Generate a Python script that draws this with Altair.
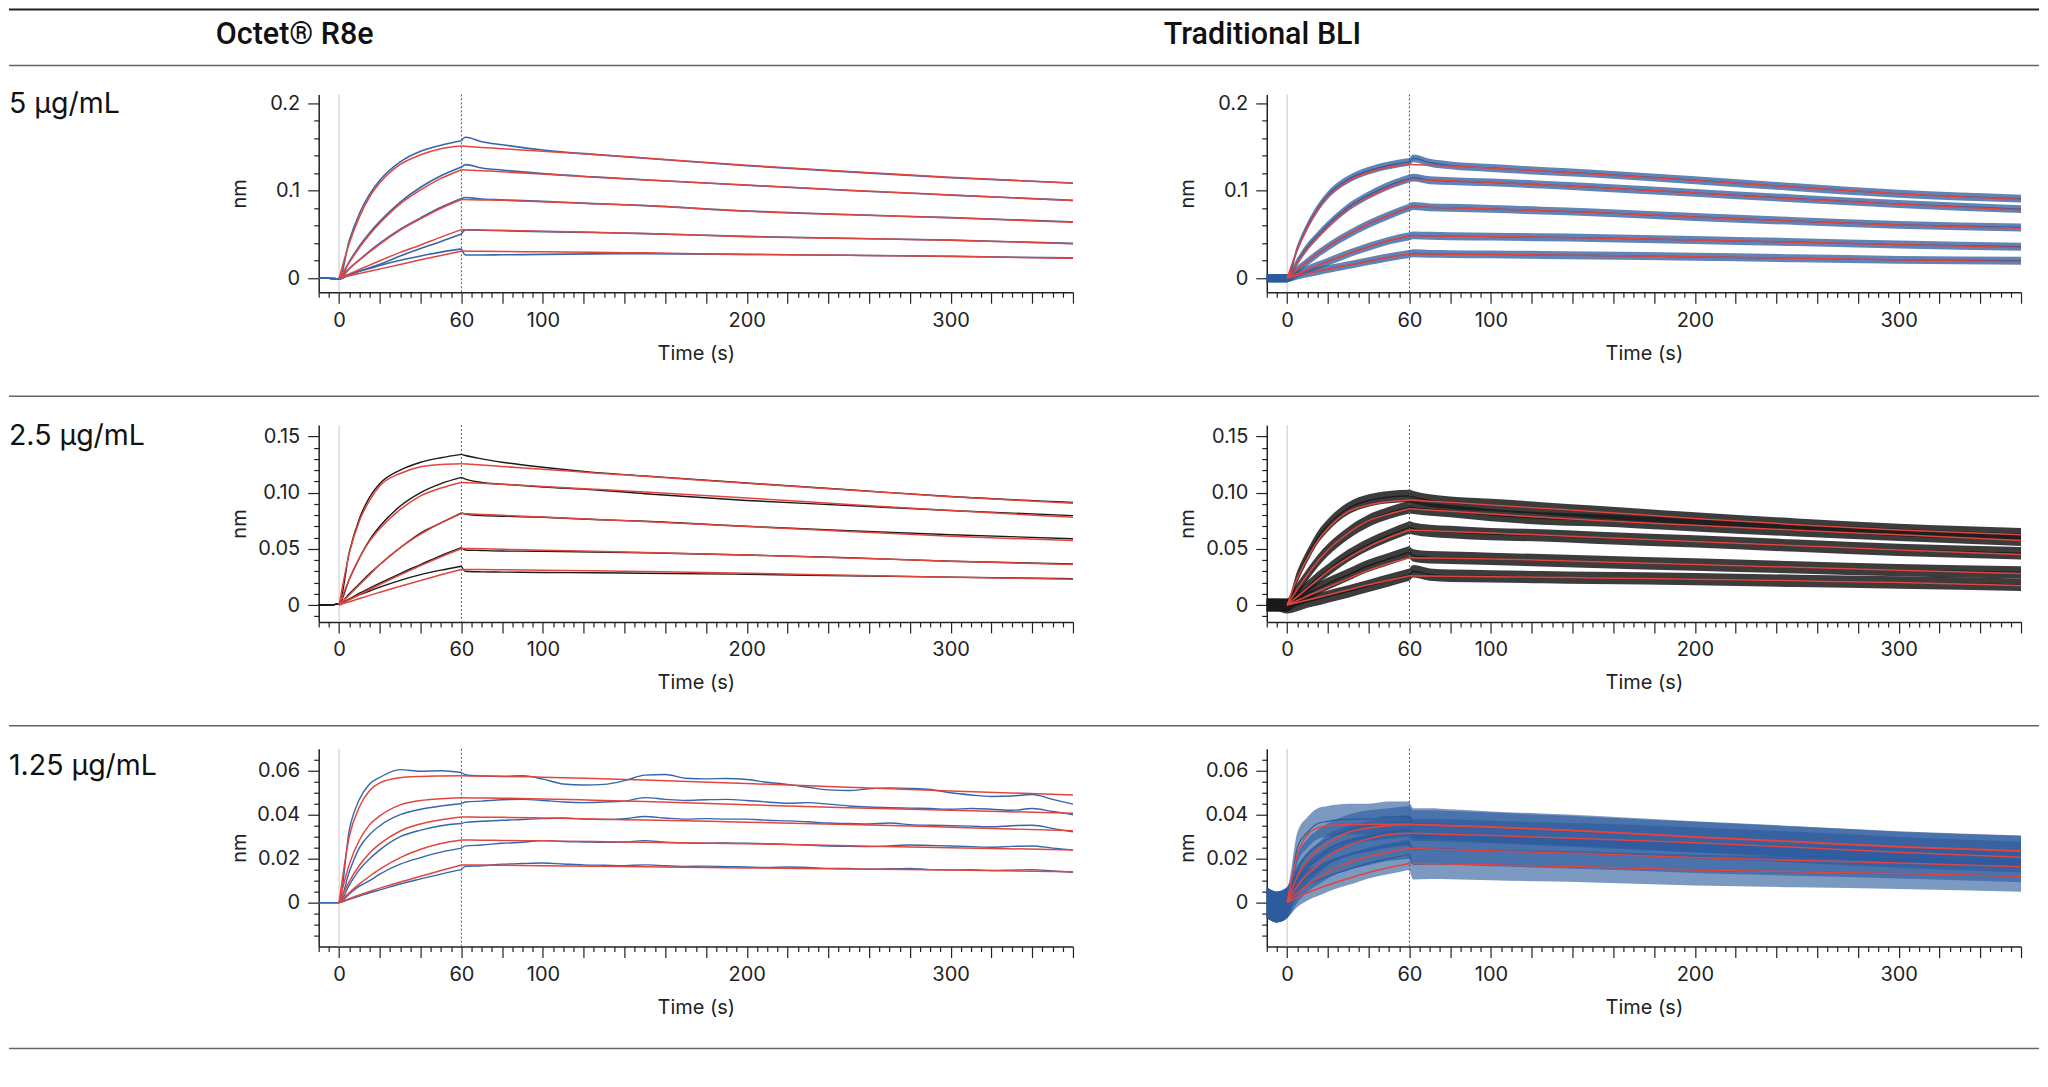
import altair as alt
import pandas as pd

FONT = "Inter"
HEAD_FONT = "Roboto"
RED = "#e2453f"
BLUE = "#3566ab"
BLUE_T = "#2b5b9c"
BLACK = "#1a1a1a"

# ---------------- time grids (s) ----------------
T_BASE = [-10, -5]
T_ASSOC = [0, 5, 10, 15, 20, 30, 40, 50, 60]
T_DISSOC = [60, 70, 80, 100, 125, 150, 200, 250, 300, 360]
T_DISSOC_M = [60, 62, 70, 80, 100, 125, 150, 200, 250, 300, 360]
T_DISSOC_FINE = [60, 62, 70, 80, 90, 100, 110, 120, 130, 140, 150, 160, 170, 180, 190, 200,
                 210, 220, 230, 240, 250, 260, 270, 280, 290, 300, 310, 320, 330, 340, 350, 360]

# ---------------- Octet R8e, 5 ug/mL ----------------
O5_FIT_A = [
    [0, 0.040, 0.070, 0.093, 0.109, 0.130, 0.141, 0.148, 0.151],
    [0, 0.018, 0.035, 0.050, 0.063, 0.085, 0.101, 0.114, 0.124],
    [0, 0.011, 0.021, 0.030, 0.039, 0.055, 0.068, 0.080, 0.090],
    [0, 0.005, 0.010, 0.015, 0.020, 0.0295, 0.038, 0.047, 0.0555],
    [0, 0.0027, 0.0054, 0.008, 0.0106, 0.0158, 0.021, 0.026, 0.031],
]
O5_FIT_D = [
    [0.151, 0.1495, 0.148, 0.145, 0.1415, 0.1375, 0.129, 0.122, 0.1154, 0.1086],
    [0.124, 0.1228, 0.1216, 0.119, 0.1155, 0.1122, 0.1065, 0.1005, 0.0952, 0.0888],
    [0.090, 0.0895, 0.089, 0.0875, 0.0852, 0.083, 0.0765, 0.0725, 0.069, 0.064],
    [0.0555, 0.0551, 0.0547, 0.0538, 0.0525, 0.0512, 0.0475, 0.0455, 0.0435, 0.0395],
    [0.031, 0.0308, 0.0306, 0.0302, 0.0296, 0.029, 0.0272, 0.0262, 0.025, 0.0228],
]
O5_MEAS_BASE = [0.0003, 0.0]
O5_MEAS_A = [
    [-0.001, 0.043, 0.074, 0.096, 0.112, 0.133, 0.145, 0.152, 0.157],
    [-0.001, 0.019, 0.037, 0.052, 0.065, 0.087, 0.104, 0.117, 0.127],
    [-0.001, 0.011, 0.021, 0.031, 0.040, 0.056, 0.069, 0.081, 0.091],
    [-0.001, 0.004, 0.008, 0.012, 0.016, 0.0255, 0.034, 0.042, 0.0505],
    [-0.001, 0.004, 0.008, 0.011, 0.0145, 0.0205, 0.0255, 0.0298, 0.0335],
]
O5_MEAS_D = [
    [0.157, 0.161, 0.156, 0.1525, 0.1465, 0.1415, 0.137, 0.1285, 0.1215, 0.1148, 0.1088],
    [0.127, 0.1298, 0.126, 0.1236, 0.1195, 0.1158, 0.1125, 0.1063, 0.1003, 0.095, 0.089],
    [0.091, 0.0922, 0.0905, 0.0895, 0.0878, 0.0852, 0.083, 0.0768, 0.0728, 0.0692, 0.0645],
    [0.0505, 0.0552, 0.0548, 0.0542, 0.0532, 0.0522, 0.051, 0.0478, 0.0456, 0.0435, 0.0398],
    [0.0335, 0.0265, 0.0266, 0.0268, 0.0272, 0.0278, 0.028, 0.0272, 0.0262, 0.025, 0.0232],
]

# ---------------- Traditional BLI, 5 ug/mL ----------------
T5_FIT_A = [
    [0, 0.033, 0.058, 0.078, 0.093, 0.111, 0.121, 0.127, 0.130],
    [0, 0.018, 0.034, 0.047, 0.059, 0.079, 0.093, 0.104, 0.113],
    [0, 0.010, 0.019, 0.028, 0.036, 0.050, 0.062, 0.072, 0.0815],
    [0, 0.005, 0.010, 0.0145, 0.019, 0.028, 0.036, 0.043, 0.0485],
    [0, 0.003, 0.0055, 0.008, 0.0105, 0.015, 0.0195, 0.024, 0.0277],
]
T5_FIT_D = [
    [0.130, 0.1292, 0.1283, 0.1258, 0.1225, 0.1192, 0.1118, 0.104, 0.0965, 0.090],
    [0.113, 0.1122, 0.1114, 0.1095, 0.1068, 0.104, 0.0975, 0.0905, 0.0845, 0.078],
    [0.0815, 0.081, 0.0805, 0.0792, 0.0772, 0.0752, 0.070, 0.0652, 0.0608, 0.057],
    [0.0485, 0.0483, 0.0481, 0.0476, 0.0468, 0.046, 0.0437, 0.0412, 0.0385, 0.035],
    [0.0277, 0.0276, 0.0275, 0.0272, 0.0266, 0.026, 0.0245, 0.0228, 0.021, 0.019],
]
T5_MEAS_BASE = [0.0, 0.0]
T5_MEAS_A = [
    [0, 0.034, 0.060, 0.080, 0.095, 0.113, 0.123, 0.129, 0.133],
    [0, 0.019, 0.036, 0.049, 0.061, 0.081, 0.095, 0.106, 0.114],
    [0, 0.010, 0.019, 0.028, 0.036, 0.050, 0.062, 0.072, 0.081],
    [0, 0.005, 0.010, 0.0145, 0.019, 0.028, 0.036, 0.043, 0.048],
    [0, 0.003, 0.0055, 0.008, 0.0105, 0.015, 0.0195, 0.024, 0.0277],
]
T5_MEAS_D = [
    [0.133, 0.137, 0.132, 0.129, 0.126, 0.1225, 0.1195, 0.112, 0.104, 0.0965, 0.091],
    [0.114, 0.115, 0.112, 0.111, 0.1095, 0.107, 0.104, 0.0975, 0.091, 0.0848, 0.079],
    [0.081, 0.0825, 0.081, 0.0805, 0.0792, 0.0772, 0.0752, 0.070, 0.0652, 0.061, 0.058],
    [0.048, 0.049, 0.0485, 0.048, 0.0476, 0.0468, 0.046, 0.0437, 0.0412, 0.0385, 0.036],
    [0.0277, 0.0285, 0.0278, 0.0276, 0.0272, 0.0266, 0.026, 0.0245, 0.0228, 0.021, 0.020],
]
T5_NOISE = 0.0045

# ---------------- Octet R8e, 2.5 ug/mL ----------------
O25_FIT_A = [
    [0, 0.046, 0.075, 0.093, 0.106, 0.117, 0.123, 0.125, 0.1257],
    [0, 0.023, 0.042, 0.057, 0.068, 0.085, 0.097, 0.104, 0.109],
    [0, 0.009, 0.018, 0.027, 0.036, 0.051, 0.063, 0.073, 0.0814],
    [0, 0.0047, 0.0093, 0.0138, 0.0182, 0.0268, 0.035, 0.0428, 0.0503],
    [0, 0.0029, 0.0058, 0.0086, 0.0113, 0.0167, 0.0219, 0.0269, 0.0317],
]
O25_FIT_D = [
    [0.1257, 0.1245, 0.1232, 0.1208, 0.1175, 0.1145, 0.1083, 0.1023, 0.0963, 0.0906],
    [0.109, 0.1082, 0.1073, 0.1055, 0.103, 0.1005, 0.0952, 0.0895, 0.084, 0.078],
    [0.0814, 0.0806, 0.0798, 0.0782, 0.0762, 0.0742, 0.0698, 0.0655, 0.0612, 0.0573],
    [0.0503, 0.050, 0.0496, 0.0488, 0.0478, 0.0468, 0.0445, 0.0418, 0.039, 0.036],
    [0.0317, 0.0316, 0.0314, 0.031, 0.0304, 0.0298, 0.0283, 0.0265, 0.0248, 0.023],
]
O25_MEAS_BASE = [0.0, 0.0]
O25_MEAS_A = [
    [0.001, 0.047, 0.077, 0.096, 0.108, 0.120, 0.127, 0.131, 0.134],
    [0.001, 0.023, 0.042, 0.058, 0.070, 0.088, 0.100, 0.108, 0.1135],
    [0.001, 0.010, 0.019, 0.028, 0.036, 0.051, 0.064, 0.073, 0.082],
    [0.001, 0.0055, 0.0105, 0.015, 0.0195, 0.028, 0.036, 0.044, 0.051],
    [0.001, 0.005, 0.009, 0.0125, 0.016, 0.022, 0.027, 0.031, 0.0345],
]
O25_MEAS_D = [
    [0.134, 0.133, 0.130, 0.127, 0.1225, 0.118, 0.1148, 0.1085, 0.1025, 0.0965, 0.0913],
    [0.1135, 0.112, 0.109, 0.1075, 0.105, 0.1025, 0.099, 0.093, 0.0885, 0.084, 0.0795],
    [0.082, 0.081, 0.0795, 0.079, 0.078, 0.076, 0.0745, 0.070, 0.066, 0.0625, 0.059],
    [0.051, 0.049, 0.0485, 0.048, 0.0478, 0.0472, 0.0465, 0.0445, 0.042, 0.039, 0.0365],
    [0.0345, 0.030, 0.0295, 0.0293, 0.029, 0.0287, 0.0283, 0.0273, 0.026, 0.0248, 0.0235],
]

# ---------------- Traditional BLI, 2.5 ug/mL ----------------
T25_FIT_A = [
    [0, 0.024, 0.042, 0.057, 0.068, 0.083, 0.089, 0.092, 0.0934],
    [0, 0.014, 0.027, 0.039, 0.049, 0.064, 0.075, 0.081, 0.0856],
    [0, 0.0075, 0.015, 0.0225, 0.030, 0.042, 0.052, 0.060, 0.0667],
    [0, 0.004, 0.008, 0.012, 0.016, 0.0235, 0.031, 0.037, 0.042],
    [0, 0.0022, 0.0045, 0.0067, 0.009, 0.0135, 0.018, 0.022, 0.026],
]
T25_FIT_D = [
    [0.0934, 0.0923, 0.0912, 0.089, 0.0861, 0.0832, 0.077, 0.0715, 0.0667, 0.0624],
    [0.0856, 0.0845, 0.0834, 0.081, 0.078, 0.0755, 0.071, 0.0665, 0.0624, 0.0574],
    [0.0667, 0.066, 0.0654, 0.064, 0.0622, 0.0603, 0.0566, 0.0528, 0.049, 0.045],
    [0.042, 0.0418, 0.0416, 0.041, 0.0398, 0.0385, 0.036, 0.0335, 0.031, 0.028],
    [0.026, 0.0258, 0.0256, 0.0252, 0.0247, 0.0241, 0.023, 0.0215, 0.020, 0.0174],
]
T25_MEAS_BASE = [0.0, 0.0]
T25_MEAS_A = [
    [0, 0.025, 0.044, 0.060, 0.071, 0.086, 0.093, 0.096, 0.097],
    [0, 0.014, 0.027, 0.039, 0.049, 0.064, 0.075, 0.082, 0.087],
    [0, 0.008, 0.016, 0.024, 0.031, 0.044, 0.054, 0.062, 0.069],
    [0, 0.005, 0.010, 0.0145, 0.019, 0.027, 0.035, 0.041, 0.047],
    [-0.002, 0.000, 0.003, 0.005, 0.0075, 0.012, 0.017, 0.022, 0.027],
]
T25_MEAS_D = [
    [0.097, 0.096, 0.093, 0.091, 0.089, 0.086, 0.083, 0.077, 0.0715, 0.0667, 0.063],
    [0.087, 0.0865, 0.085, 0.0835, 0.080, 0.077, 0.0755, 0.071, 0.0665, 0.0624, 0.058],
    [0.069, 0.068, 0.066, 0.065, 0.063, 0.062, 0.060, 0.0566, 0.0528, 0.049, 0.046],
    [0.047, 0.044, 0.0425, 0.042, 0.041, 0.0398, 0.0385, 0.036, 0.0335, 0.031, 0.029],
    [0.027, 0.030, 0.027, 0.026, 0.0255, 0.0248, 0.0241, 0.023, 0.0215, 0.020, 0.018],
]
T25_NOISE = 0.0055

# ---------------- Octet R8e, 1.25 ug/mL ----------------
O125_FIT_A = [
    [0, 0.030, 0.0436, 0.051, 0.0545, 0.0568, 0.0574, 0.0576, 0.0577],
    [0, 0.0174, 0.0285, 0.0355, 0.0395, 0.0445, 0.0465, 0.0473, 0.0477],
    [0, 0.0096, 0.017, 0.0226, 0.0267, 0.0326, 0.0358, 0.0377, 0.039],
    [0, 0.0045, 0.0085, 0.012, 0.0152, 0.0205, 0.0243, 0.0269, 0.0285],
    [0, 0.0018, 0.0035, 0.0051, 0.0066, 0.0094, 0.012, 0.0146, 0.0171],
]
O125_FIT_D = [
    [0.0577, 0.0576, 0.0575, 0.0571, 0.0565, 0.0558, 0.0542, 0.0525, 0.0508, 0.049],
    [0.0477, 0.0476, 0.0475, 0.0472, 0.0466, 0.046, 0.0445, 0.0432, 0.042, 0.0407],
    [0.039, 0.0389, 0.0388, 0.0385, 0.038, 0.0376, 0.0366, 0.0356, 0.0343, 0.0327],
    [0.0285, 0.0284, 0.0283, 0.0281, 0.0278, 0.0275, 0.0268, 0.0259, 0.025, 0.024],
    [0.0171, 0.0171, 0.017, 0.0168, 0.0166, 0.0163, 0.0158, 0.0153, 0.0148, 0.014],
]
O125_MEAS_BASE = [0.0, 0.0]
O125_MEAS_A = [
    [0, 0.033, 0.047, 0.054, 0.057, 0.0605, 0.0598, 0.060, 0.0592],
    [0, 0.014, 0.025, 0.031, 0.035, 0.040, 0.0425, 0.044, 0.045],
    [0, 0.008, 0.015, 0.020, 0.024, 0.030, 0.033, 0.035, 0.036],
    [0, 0.004, 0.0075, 0.010, 0.013, 0.0175, 0.0205, 0.023, 0.0248],
    [0, 0.0015, 0.003, 0.0045, 0.0058, 0.0085, 0.0108, 0.013, 0.015],
]
O125_MEAS_D = [
    [0.0592, 0.0582, 0.0576, 0.0574, 0.0578, 0.0562, 0.054, 0.0535, 0.0538, 0.0555, 0.058, 0.0583,
     0.0566, 0.0563, 0.0565, 0.056, 0.0548, 0.0538, 0.0525, 0.0513, 0.051, 0.0518, 0.0522, 0.052,
     0.0515, 0.050, 0.049, 0.0483, 0.0485, 0.0492, 0.047, 0.0448],
    [0.045, 0.0458, 0.0462, 0.0468, 0.047, 0.0465, 0.0458, 0.0455, 0.0458, 0.0462, 0.0478, 0.047,
     0.0465, 0.0468, 0.047, 0.0465, 0.0458, 0.0452, 0.0455, 0.0448, 0.044, 0.0435, 0.0432, 0.043,
     0.0428, 0.0425, 0.0428, 0.0425, 0.042, 0.0428, 0.0415, 0.040],
    [0.036, 0.0365, 0.037, 0.0375, 0.0378, 0.0382, 0.0385, 0.038, 0.0378, 0.0382, 0.0392, 0.0385,
     0.038, 0.0382, 0.038, 0.038, 0.0375, 0.0372, 0.0368, 0.0362, 0.036, 0.0358, 0.0362, 0.0355,
     0.0352, 0.035, 0.0348, 0.0345, 0.035, 0.0352, 0.0338, 0.0322],
    [0.0248, 0.0258, 0.0262, 0.027, 0.0275, 0.0282, 0.0278, 0.0276, 0.0274, 0.0276, 0.0282, 0.0275,
     0.0272, 0.027, 0.0272, 0.027, 0.0268, 0.0265, 0.0262, 0.0258, 0.0256, 0.0255, 0.0258, 0.0262,
     0.026, 0.0258, 0.0255, 0.0252, 0.0256, 0.0258, 0.0248, 0.024],
    [0.015, 0.0165, 0.0168, 0.0175, 0.0178, 0.018, 0.0176, 0.0172, 0.017, 0.0168, 0.0172, 0.0168,
     0.0165, 0.0166, 0.0164, 0.0162, 0.016, 0.0162, 0.016, 0.0156, 0.0155, 0.0152, 0.0154, 0.0156,
     0.015, 0.0148, 0.015, 0.0146, 0.0148, 0.015, 0.0144, 0.0138],
]

# ---------------- Traditional BLI, 1.25 ug/mL ----------------
T125_FIT_A = [
    [0, 0.022, 0.031, 0.034, 0.035, 0.0355, 0.0356, 0.0357, 0.0357],
    [0, 0.012, 0.019, 0.024, 0.027, 0.032, 0.034, 0.035, 0.0355],
    [0, 0.0075, 0.013, 0.017, 0.021, 0.026, 0.029, 0.031, 0.0316],
    [0, 0.0045, 0.008, 0.011, 0.014, 0.018, 0.021, 0.023, 0.0246],
    [0, 0.0025, 0.0045, 0.0063, 0.008, 0.011, 0.0137, 0.016, 0.0178],
]
T125_FIT_D = [
    [0.0357, 0.0354, 0.0351, 0.0345, 0.0335, 0.0325, 0.030, 0.0278, 0.0255, 0.0236],
    [0.0355, 0.0352, 0.0349, 0.0343, 0.0333, 0.0323, 0.0298, 0.0276, 0.0253, 0.0234],
    [0.0316, 0.0313, 0.031, 0.0305, 0.0297, 0.029, 0.0272, 0.0252, 0.0229, 0.0207],
    [0.0246, 0.0244, 0.0242, 0.0236, 0.0229, 0.0222, 0.0205, 0.0192, 0.018, 0.0163],
    [0.0178, 0.0177, 0.0176, 0.0172, 0.0167, 0.0162, 0.0148, 0.014, 0.0132, 0.012],
]
T125_MEAS_BASE = [0.0, -0.002]
T125_MEAS_A = [
    [0, 0.025, 0.032, 0.036, 0.037, 0.038, 0.038, 0.039, 0.039],
    [0, 0.015, 0.022, 0.026, 0.029, 0.033, 0.035, 0.036, 0.037],
    [0, 0.010, 0.016, 0.020, 0.024, 0.028, 0.030, 0.032, 0.033],
    [0, 0.007, 0.012, 0.015, 0.018, 0.022, 0.024, 0.026, 0.027],
    [0, 0.005, 0.008, 0.010, 0.012, 0.015, 0.018, 0.020, 0.022],
]
T125_MEAS_D = [
    [0.039, 0.036, 0.036, 0.0355, 0.0345, 0.0335, 0.0325, 0.030, 0.0278, 0.0255, 0.0236],
    [0.037, 0.035, 0.035, 0.0347, 0.034, 0.033, 0.032, 0.0298, 0.0276, 0.0253, 0.0234],
    [0.033, 0.031, 0.031, 0.0308, 0.0303, 0.0296, 0.029, 0.0272, 0.0252, 0.0229, 0.0207],
    [0.027, 0.0245, 0.0244, 0.0242, 0.0236, 0.0229, 0.0222, 0.0205, 0.0192, 0.018, 0.0163],
    [0.022, 0.0175, 0.0177, 0.0176, 0.0172, 0.0167, 0.0162, 0.0148, 0.014, 0.0132, 0.012],
]
T125_NOISE = 0.007

# ---------------- axis ticks / labels ----------------
X_TICKS = [-10, -5, 0, 5, 10, 15, 20, 25, 30, 35, 40, 45, 50, 55, 60, 65, 70, 75, 80, 85, 90, 95,
           100, 105, 110, 115, 120, 125, 130, 135, 140, 145, 150, 155, 160, 165, 170, 175, 180,
           185, 190, 195, 200, 205, 210, 215, 220, 225, 230, 235, 240, 245, 250, 255, 260, 265,
           270, 275, 280, 285, 290, 295, 300, 305, 310, 315, 320, 325, 330, 335, 340, 345, 350,
           355, 360]
X_LABELS = [0, 60, 100, 200, 300]

Y1_TICKS = [0, 0.02, 0.04, 0.06, 0.08, 0.1, 0.12, 0.14, 0.16, 0.18, 0.2]
Y1_LABELS = {0: "0", 0.1: "0.1", 0.2: "0.2"}
Y2_TICKS = [-0.01, 0, 0.01, 0.02, 0.03, 0.04, 0.05, 0.06, 0.07, 0.08, 0.09, 0.1, 0.11, 0.12,
            0.13, 0.14, 0.15]
Y2_LABELS = {0: "0", 0.05: "0.05", 0.1: "0.10", 0.15: "0.15"}
Y3_TICKS = [-0.015, -0.01, -0.005, 0, 0.005, 0.01, 0.015, 0.02, 0.025, 0.03, 0.035, 0.04, 0.045,
            0.05, 0.055, 0.06, 0.065]
Y3_LABELS = {0: "0", 0.02: "0.02", 0.04: "0.04", 0.06: "0.06"}

Y1_DOMAIN = [-0.016, 0.21]
Y2_DOMAIN = [-0.015, 0.16]
Y3_DOMAIN = [-0.02, 0.07]

ROW_LABELS = ["5 µg/mL", "2.5 µg/mL", "1.25 µg/mL"]
COL_HEADERS = ["Octet® R8e", "Traditional BLI"]

PW = 755
AX = dict(domainColor="#222", domainWidth=1.5, tickColor="#222", tickWidth=1.2,
          labelColor="#222", labelFont=FONT, labelFontSize=20, titleFont=FONT,
          titleFontSize=20, titleFontWeight="normal", titleColor="#222", grid=False,
          labelOverlap=False)


def fit_frame(fa, fd):
    rows = []
    for i, (a, d) in enumerate(zip(fa, fd)):
        rows += [{"t": t, "v": v, "k": f"{i}a"} for t, v in zip(T_ASSOC, a)]
        rows += [{"t": t, "v": v, "k": f"{i}d"} for t, v in zip(T_DISSOC, d)]
    return pd.DataFrame(rows)


def meas_frame(base, ma, md, td):
    rows = []
    for i, (a, d) in enumerate(zip(ma, md)):
        rows += [{"t": t, "v": v, "k": f"{i}a"} for t, v in zip(T_BASE, base)]
        rows += [{"t": t, "v": v, "k": f"{i}a"} for t, v in zip(T_ASSOC, a)]
        rows += [{"t": t, "v": v, "k": f"{i}d"} for t, v in zip(td, d)]
    return pd.DataFrame(rows)


def panel(fit_df, meas_df, ydom, yticks, ylabels, h, mcolor, mwidth, noise=None, nop=0.5):
    lab_list = ",".join(repr(v) for v in ylabels)
    lab_expr = "".join(f"datum.value === {v} ? '{s}' : " for v, s in ylabels.items()) + "''"
    x_axis = alt.Axis(values=X_TICKS, title="Time (s)",
                      labelExpr="indexof(%s, datum.value) >= 0 ? datum.label : ''" % str(X_LABELS),
                      tickSize={"condition": {"test": "datum.value % 20 === 0", "value": 11}, "value": 5},
                      labelPadding=7, labelFlush=False, titleX=PW / 2, titleY=61,
                      titleBaseline="middle", titleAlign="center", **AX)
    y_axis = alt.Axis(values=yticks, title="nm", labelExpr=lab_expr,
                      tickSize={"condition": {"test": f"indexof([{lab_list}], datum.value) >= 0", "value": 11}, "value": 5},
                      labelPadding=8, titleX=-79, titleY=h / 2, titleAngle=270,
                      titleAlign="center", titleBaseline="middle", **AX)
    x = alt.X("t:Q", scale=alt.Scale(domain=[-10, 360], nice=False, zero=False), axis=x_axis)

    def y(f):
        return alt.Y(f"{f}:Q", scale=alt.Scale(domain=ydom, nice=False, zero=False), axis=y_axis)

    r0 = alt.Chart(pd.DataFrame({"t": [0]})).mark_rule(color="#c8c8c8", strokeWidth=1).encode(x=x)
    r60 = alt.Chart(pd.DataFrame({"t": [60]})).mark_rule(
        color="#555", strokeWidth=1, strokeDash=[2, 2]).encode(x=x)
    layers = [r0, r60]
    if noise:
        band = alt.Chart(meas_df).transform_calculate(
            lo=f"datum.v - {noise}", hi=f"datum.v + {noise}"
        ).mark_area(interpolate="monotone", color=mcolor, opacity=nop).encode(
            x=x, y=y("lo"), y2="hi:Q", detail="k:N")
        layers.append(band)
    meas = alt.Chart(meas_df).mark_line(interpolate="monotone", color=mcolor,
                                        strokeWidth=mwidth).encode(x=x, y=y("v"), detail="k:N")
    fit = alt.Chart(fit_df).mark_line(interpolate="monotone", color=RED,
                                      strokeWidth=1.5).encode(x=x, y=y("v"), detail="k:N")
    layers += [meas, fit]
    return alt.layer(*layers).properties(width=PW, height=h)


ONE = pd.DataFrame({"r": [0]})


def hrule(yv, color="#666", w=1.5):
    return alt.Chart(ONE).mark_rule(color=color, strokeWidth=w).encode(
        x=alt.value(0), x2=alt.value(2032), y=alt.value(yv))


def text(s, xv, yv, size, weight="normal", font=FONT):
    return alt.Chart(pd.DataFrame({"s": [s]})).mark_text(
        align="left", baseline="alphabetic", font=font, fontSize=size, fontWeight=weight,
        color="#111").encode(text="s:N", x=alt.value(xv), y=alt.value(yv))


label1 = alt.layer(
    hrule(-85, "#222", 2), hrule(-29), hrule(302),
    text(COL_HEADERS[0], 207, -50, 30.5, 500, HEAD_FONT),
    text(COL_HEADERS[1], 1156, -50, 30.5, 500, HEAD_FONT),
    text(ROW_LABELS[0], 0, 19, 28.5),
).properties(width=116, height=204)
label2 = alt.layer(hrule(301), text(ROW_LABELS[1], 0, 20, 28.5)).properties(width=116, height=197)
label3 = alt.layer(hrule(300), text(ROW_LABELS[2], 0, 26, 28.5)).properties(width=116, height=198)

p_o5 = panel(fit_frame(O5_FIT_A, O5_FIT_D), meas_frame(O5_MEAS_BASE, O5_MEAS_A, O5_MEAS_D, T_DISSOC_M),
             Y1_DOMAIN, Y1_TICKS, Y1_LABELS, 198, BLUE, 1.6)
p_t5 = panel(fit_frame(T5_FIT_A, T5_FIT_D), meas_frame(T5_MEAS_BASE, T5_MEAS_A, T5_MEAS_D, T_DISSOC_M),
             Y1_DOMAIN, Y1_TICKS, Y1_LABELS, 198, BLUE_T, 1.2, T5_NOISE, 0.75)
p_o25 = panel(fit_frame(O25_FIT_A, O25_FIT_D), meas_frame(O25_MEAS_BASE, O25_MEAS_A, O25_MEAS_D, T_DISSOC_M),
              Y2_DOMAIN, Y2_TICKS, Y2_LABELS, 197, BLACK, 1.4)
p_t25 = panel(fit_frame(T25_FIT_A, T25_FIT_D), meas_frame(T25_MEAS_BASE, T25_MEAS_A, T25_MEAS_D, T_DISSOC_M),
              Y2_DOMAIN, Y2_TICKS, Y2_LABELS, 197, BLACK, 1.2, T25_NOISE, 0.85)
p_o125 = panel(fit_frame(O125_FIT_A, O125_FIT_D),
               meas_frame(O125_MEAS_BASE, O125_MEAS_A, O125_MEAS_D, T_DISSOC_FINE),
               Y3_DOMAIN, Y3_TICKS, Y3_LABELS, 198, BLUE, 1.4)
p_t125 = panel(fit_frame(T125_FIT_A, T125_FIT_D),
               meas_frame(T125_MEAS_BASE, T125_MEAS_A, T125_MEAS_D, T_DISSOC_M),
               Y3_DOMAIN, Y3_TICKS, Y3_LABELS, 198, BLUE_T, 1.2, T125_NOISE, 0.62)

chart = alt.concat(
    label1, p_o5, p_t5,
    label2, p_o25, p_t25,
    label3, p_o125, p_t125,
    columns=3, spacing={"row": 127, "column": 194}, align="each", bounds="flush",
).properties(padding=0).configure_view(stroke=None)

chart.save("out.html", embed_options={"renderer": "svg", "actions": False})
